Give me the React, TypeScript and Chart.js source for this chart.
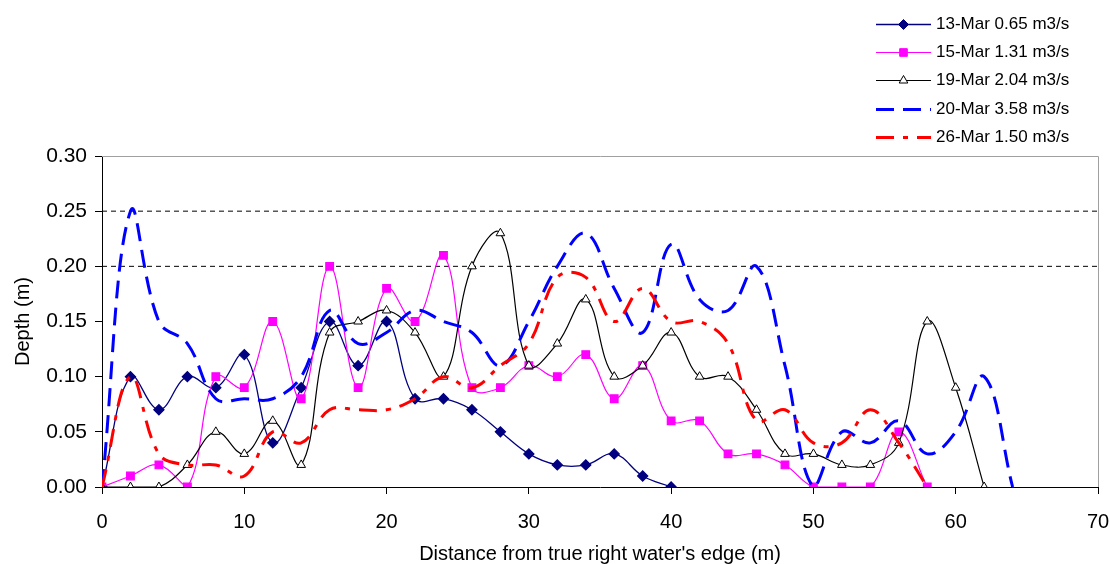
import React, { useEffect, useRef } from 'react';
import { Chart, registerables } from 'chart.js';

Chart.register(...registerables);

// Distance from true right water's edge (m)
const distance = [0, 2, 4, 6, 8, 10, 12, 14, 16, 18, 20, 22, 24, 26, 28, 30, 32, 34, 36, 38, 40, 42, 44, 46, 48, 50, 52, 54, 56, 58, 60, 62, 64];

// Depth (m) per survey
const depth13Mar = [0, 0.10, 0.07, 0.10, 0.09, 0.12, 0.04, 0.09, 0.15, 0.11, 0.15, 0.08, 0.08, 0.07, 0.05, 0.03, 0.02, 0.02, 0.03, 0.01, 0];
const depth15Mar = [0, 0.01, 0.02, 0, 0.10, 0.09, 0.15, 0.08, 0.20, 0.09, 0.18, 0.15, 0.21, 0.09, 0.09, 0.11, 0.10, 0.12, 0.08, 0.11, 0.06, 0.06, 0.03, 0.03, 0.02, 0, 0, 0, 0.05, 0];
const depth19Mar = [0, 0, 0, 0.02, 0.05, 0.03, 0.06, 0.02, 0.14, 0.15, 0.16, 0.14, 0.10, 0.20, 0.23, 0.11, 0.13, 0.17, 0.10, 0.11, 0.14, 0.10, 0.10, 0.07, 0.03, 0.03, 0.02, 0.02, 0.04, 0.15, 0.09, 0];
const depth20Mar = [0, 0.25, 0.15, 0.13, 0.08, 0.08, 0.08, 0.10, 0.16, 0.13, 0.14, 0.16, 0.15, 0.14, 0.11, 0.15, 0.20, 0.23, 0.18, 0.14, 0.22, 0.17, 0.16, 0.20, 0.11, 0, 0.05, 0.04, 0.06, 0.03, 0.05, 0.10, 0];
const depth26Mar = [0, 0.10, 0.03, 0.02, 0.02, 0.01, 0.05, 0.04, 0.07, 0.07, 0.07, 0.08, 0.10, 0.09, 0.11, 0.13, 0.19, 0.19, 0.15, 0.18, 0.15, 0.15, 0.13, 0.06, 0.07, 0.04, 0.04, 0.07, 0.04, 0];

const seriesLabels = ['13-Mar 0.65 m3/s', '15-Mar 1.31 m3/s', '19-Mar 2.04 m3/s', '20-Mar 3.58 m3/s', '26-Mar 1.50 m3/s'];

// Reference depth lines
const referenceDepths = [0.20, 0.25];
const referenceSpan = [0, 70];

const xTickRange = [0, 70];
const yTickRange = [0, 0.3];

const FONT = "'Liberation Sans', Arial, Helvetica, sans-serif";

const toPoints = (ys: number[]) => ys.map((y, i) => ({ x: distance[i], y }));

const borderPlugin = {
  id: 'plotBorder',
  beforeDatasetsDraw(chart: any) {
    const { ctx, chartArea } = chart;
    const { left, right, top, bottom } = chartArea;
    ctx.save();
    ctx.strokeStyle = '#a0a0a0';
    ctx.lineWidth = 1;
    ctx.beginPath();
    ctx.moveTo(left, Math.round(top) + 0.5);
    ctx.lineTo(Math.round(right) + 0.5, Math.round(top) + 0.5);
    ctx.lineTo(Math.round(right) + 0.5, bottom);
    ctx.stroke();
    ctx.restore();
  },
};

function drawMarker(ctx: CanvasRenderingContext2D, style: string, x: number, y: number, r: number, fill: string, stroke: string) {
  ctx.beginPath();
  if (style === 'rectRot') {
    ctx.moveTo(x, y - r);
    ctx.lineTo(x + r, y);
    ctx.lineTo(x, y + r);
    ctx.lineTo(x - r, y);
    ctx.closePath();
  } else if (style === 'rect') {
    const s = Math.SQRT1_2 * r;
    ctx.rect(x - s, y - s, 2 * s, 2 * s);
  } else if (style === 'triangle') {
    ctx.moveTo(x, y - r);
    ctx.lineTo(x + Math.sin((2 * Math.PI) / 3) * r, y + r / 2);
    ctx.lineTo(x - Math.sin((2 * Math.PI) / 3) * r, y + r / 2);
    ctx.closePath();
  } else {
    return;
  }
  ctx.fillStyle = fill;
  ctx.fill();
  ctx.strokeStyle = stroke;
  ctx.lineWidth = 1;
  ctx.stroke();
}

const legendPlugin = {
  id: 'customLegend',
  afterDraw(chart: any) {
    const { ctx } = chart;
    const items = chart.data.datasets.filter((d: any) => !d.isReference);
    const x0 = 876;
    const x1 = 931;
    const textX = 936;
    const y0 = 24;
    const step = 28.2;
    ctx.save();
    items.forEach((d: any, i: number) => {
      const y = Math.round(y0 + i * step) + 0.5;
      ctx.beginPath();
      ctx.setLineDash(d.borderDash || []);
      ctx.lineDashOffset = 0;
      ctx.strokeStyle = d.borderColor;
      ctx.lineWidth = d.borderWidth;
      ctx.lineCap = 'butt';
      ctx.moveTo(x0, y);
      ctx.lineTo(x1, y);
      ctx.stroke();
      ctx.setLineDash([]);
      if (d.pointRadius > 0) {
        drawMarker(ctx, d.pointStyle, (x0 + x1) / 2, y, d.pointRadius, d.pointBackgroundColor, d.pointBorderColor);
      }
      ctx.fillStyle = '#000';
      ctx.font = `17px ${FONT}`;
      ctx.textBaseline = 'middle';
      ctx.textAlign = 'left';
      ctx.fillText(d.label, textX, y);
    });
    ctx.restore();
  },
};

export default function App() {
  const canvasRef = useRef<HTMLCanvasElement | null>(null);

  useEffect(() => {
    if (!canvasRef.current) return;
    const refSets = referenceDepths.map((level) => ({
      label: `ref ${level}`,
      isReference: true,
      data: referenceSpan.map((x) => ({ x, y: level })),
      borderColor: '#000',
      borderWidth: 1,
      borderDash: [5, 4],
      pointRadius: 0,
      tension: 0,
      order: 60,
    }));

    const chart = new Chart(canvasRef.current, {
      type: 'line',
      data: {
        datasets: [
          {
            label: seriesLabels[0],
            data: toPoints(depth13Mar),
            borderColor: '#000080',
            borderWidth: 1.3,
            pointStyle: 'rectRot',
            pointRadius: 5,
            pointBackgroundColor: '#000080',
            pointBorderColor: '#000080',
            order: 50,
          },
          {
            label: seriesLabels[1],
            data: toPoints(depth15Mar),
            borderColor: '#ff00ff',
            borderWidth: 1.2,
            pointStyle: 'rect',
            pointRadius: 5.4,
            pointBackgroundColor: '#ff00ff',
            pointBorderColor: '#ff00ff',
            order: 40,
          },
          {
            label: seriesLabels[2],
            data: toPoints(depth19Mar),
            borderColor: '#000000',
            borderWidth: 1.2,
            pointStyle: 'triangle',
            pointRadius: 5,
            pointBackgroundColor: '#ffffff',
            pointBorderColor: '#000000',
            pointBorderWidth: 1,
            order: 30,
          },
          {
            label: seriesLabels[3],
            data: toPoints(depth20Mar),
            borderColor: '#0000ff',
            borderWidth: 3,
            borderDash: [18, 9],
            pointRadius: 0,
            order: 20,
          },
          {
            label: seriesLabels[4],
            data: toPoints(depth26Mar),
            borderColor: '#ff0000',
            borderWidth: 3,
            borderDash: [18, 9, 5, 9],
            pointRadius: 0,
            order: 10,
          },
          ...refSets,
        ] as any,
      },
      options: {
        animation: false,
        responsive: false,
        maintainAspectRatio: false,
        layout: { padding: { top: 156, right: 12, left: 0, bottom: 0 } },
        elements: { line: { tension: 0.4 } },
        plugins: {
          legend: { display: false },
          tooltip: { enabled: false },
        },
        scales: {
          x: {
            type: 'linear',
            min: xTickRange[0],
            max: xTickRange[1],
            ticks: {
              stepSize: 10,
              color: '#000',
              font: { family: FONT, size: 20 },
              padding: 16,
              maxRotation: 0,
            },
            grid: { drawOnChartArea: false, drawTicks: true, tickLength: 7, color: '#000' },
            border: { color: '#000', width: 1 },
            title: {
              display: true,
              text: "Distance from true right water's edge (m)",
              color: '#000',
              font: { family: FONT, size: 20, lineHeight: 1 },
              padding: { top: 0, bottom: 0 },
            },
            afterFit: (s: any) => {
              s.height = 77;
              s.paddingLeft = 0;
              s.paddingRight = 0;
            },
          },
          y: {
            type: 'linear',
            min: yTickRange[0],
            max: yTickRange[1],
            ticks: {
              stepSize: 0.05,
              color: '#000',
              font: { family: FONT, size: 21 },
              padding: 8,
              callback: (v: any) => Number(v).toFixed(2),
            },
            grid: { drawOnChartArea: false, drawTicks: true, tickLength: 7, color: '#000' },
            border: { color: '#000', width: 1 },
            title: {
              display: true,
              text: 'Depth (m)',
              color: '#000',
              font: { family: FONT, size: 20 },
              padding: { top: 11, bottom: 0 },
            },
            afterFit: (s: any) => {
              s.width = 102;
              s.paddingTop = 0;
              s.paddingBottom = 0;
            },
          },
        },
      } as any,
      plugins: [borderPlugin, legendPlugin],
    });
    return () => chart.destroy();
  }, []);

  return (
    <div style={{ position: 'fixed', left: 0, top: 0, width: 1110, height: 564, background: '#fff' }}>
      <canvas ref={canvasRef} width={1110} height={564} style={{ display: 'block', width: 1110, height: 564 }} />
    </div>
  );
}
